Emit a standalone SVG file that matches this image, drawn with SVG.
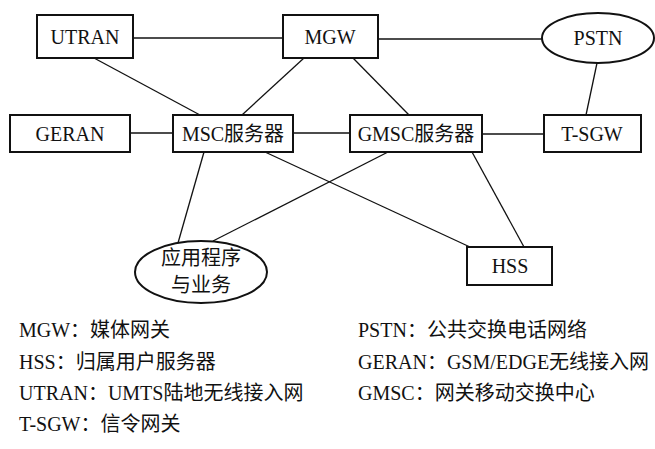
<svg xmlns="http://www.w3.org/2000/svg" width="655" height="449" viewBox="0 0 655 449">
<style>
.box{fill:#fff;stroke:#111;stroke-width:2}
.ell{fill:#fff;stroke:#111;stroke-width:2}
.t{font-family:"Liberation Serif","Noto Sans CJK SC",serif;font-size:20px;fill:#111;text-anchor:middle}
.lg{font-family:"Liberation Serif","Noto Sans CJK SC",serif;font-size:20px;fill:#111}
#connectors line{stroke:#111;stroke-width:1.3}
</style>
<rect width="655" height="449" fill="#fff"/>
<g id="connectors">
<line x1="133" y1="38" x2="283" y2="38"/>
<line x1="378" y1="39" x2="542" y2="39"/>
<line x1="94" y1="58" x2="200" y2="115"/>
<line x1="304" y1="58" x2="242" y2="115"/>
<line x1="353" y1="58" x2="409" y2="115"/>
<line x1="597" y1="63" x2="586" y2="115"/>
<line x1="130" y1="133" x2="173" y2="133"/>
<line x1="293" y1="133" x2="350" y2="133"/>
<line x1="482" y1="134" x2="544" y2="134"/>
<line x1="204" y1="152" x2="178" y2="243"/>
<line x1="265" y1="152" x2="470" y2="247"/>
<line x1="388" y1="152" x2="213" y2="241"/>
<line x1="472" y1="152" x2="524" y2="247"/>
</g>
<g id="utran"><rect class="box" x="37" y="15" width="96" height="43"/><text class="t" x="85" y="44">UTRAN</text></g>
<g id="mgw"><rect class="box" x="283" y="15" width="95" height="43"/><text class="t" x="330" y="44">MGW</text></g>
<g id="pstn"><ellipse class="ell" cx="598" cy="38" rx="56" ry="25"/><text class="t" x="598" y="45">PSTN</text></g>
<g id="geran"><rect class="box" x="10" y="115" width="120" height="37"/><text class="t" x="70" y="141">GERAN</text></g>
<g id="msc"><rect class="box" x="173" y="115" width="120" height="37"/><text class="t" x="233" y="141">MSC服务器</text></g>
<g id="gmsc"><rect class="box" x="350" y="115" width="132" height="37"/><text class="t" x="416" y="141">GMSC服务器</text></g>
<g id="tsgw"><rect class="box" x="544" y="115" width="97" height="37"/><text class="t" x="592" y="141">T-SGW</text></g>
<g id="app"><ellipse class="ell" cx="201" cy="272" rx="66" ry="31"/><text class="t" x="201" y="265">应用程序</text><text class="t" x="201" y="292">与业务</text></g>
<g id="hss"><rect class="box" x="467" y="247" width="85" height="38"/><text class="t" x="510" y="273">HSS</text></g>
<g id="legend">
<text class="lg" x="19" y="337">MGW：媒体网关</text>
<text class="lg" x="19" y="369">HSS：归属用户服务器</text>
<text class="lg" x="19" y="400">UTRAN：UMTS陆地无线接入网</text>
<text class="lg" x="19" y="431">T-SGW：信令网关</text>
<text class="lg" x="358" y="337">PSTN：公共交换电话网络</text>
<text class="lg" x="358" y="369">GERAN：GSM/EDGE无线接入网</text>
<text class="lg" x="358" y="400">GMSC：网关移动交换中心</text>
</g>
</svg>
